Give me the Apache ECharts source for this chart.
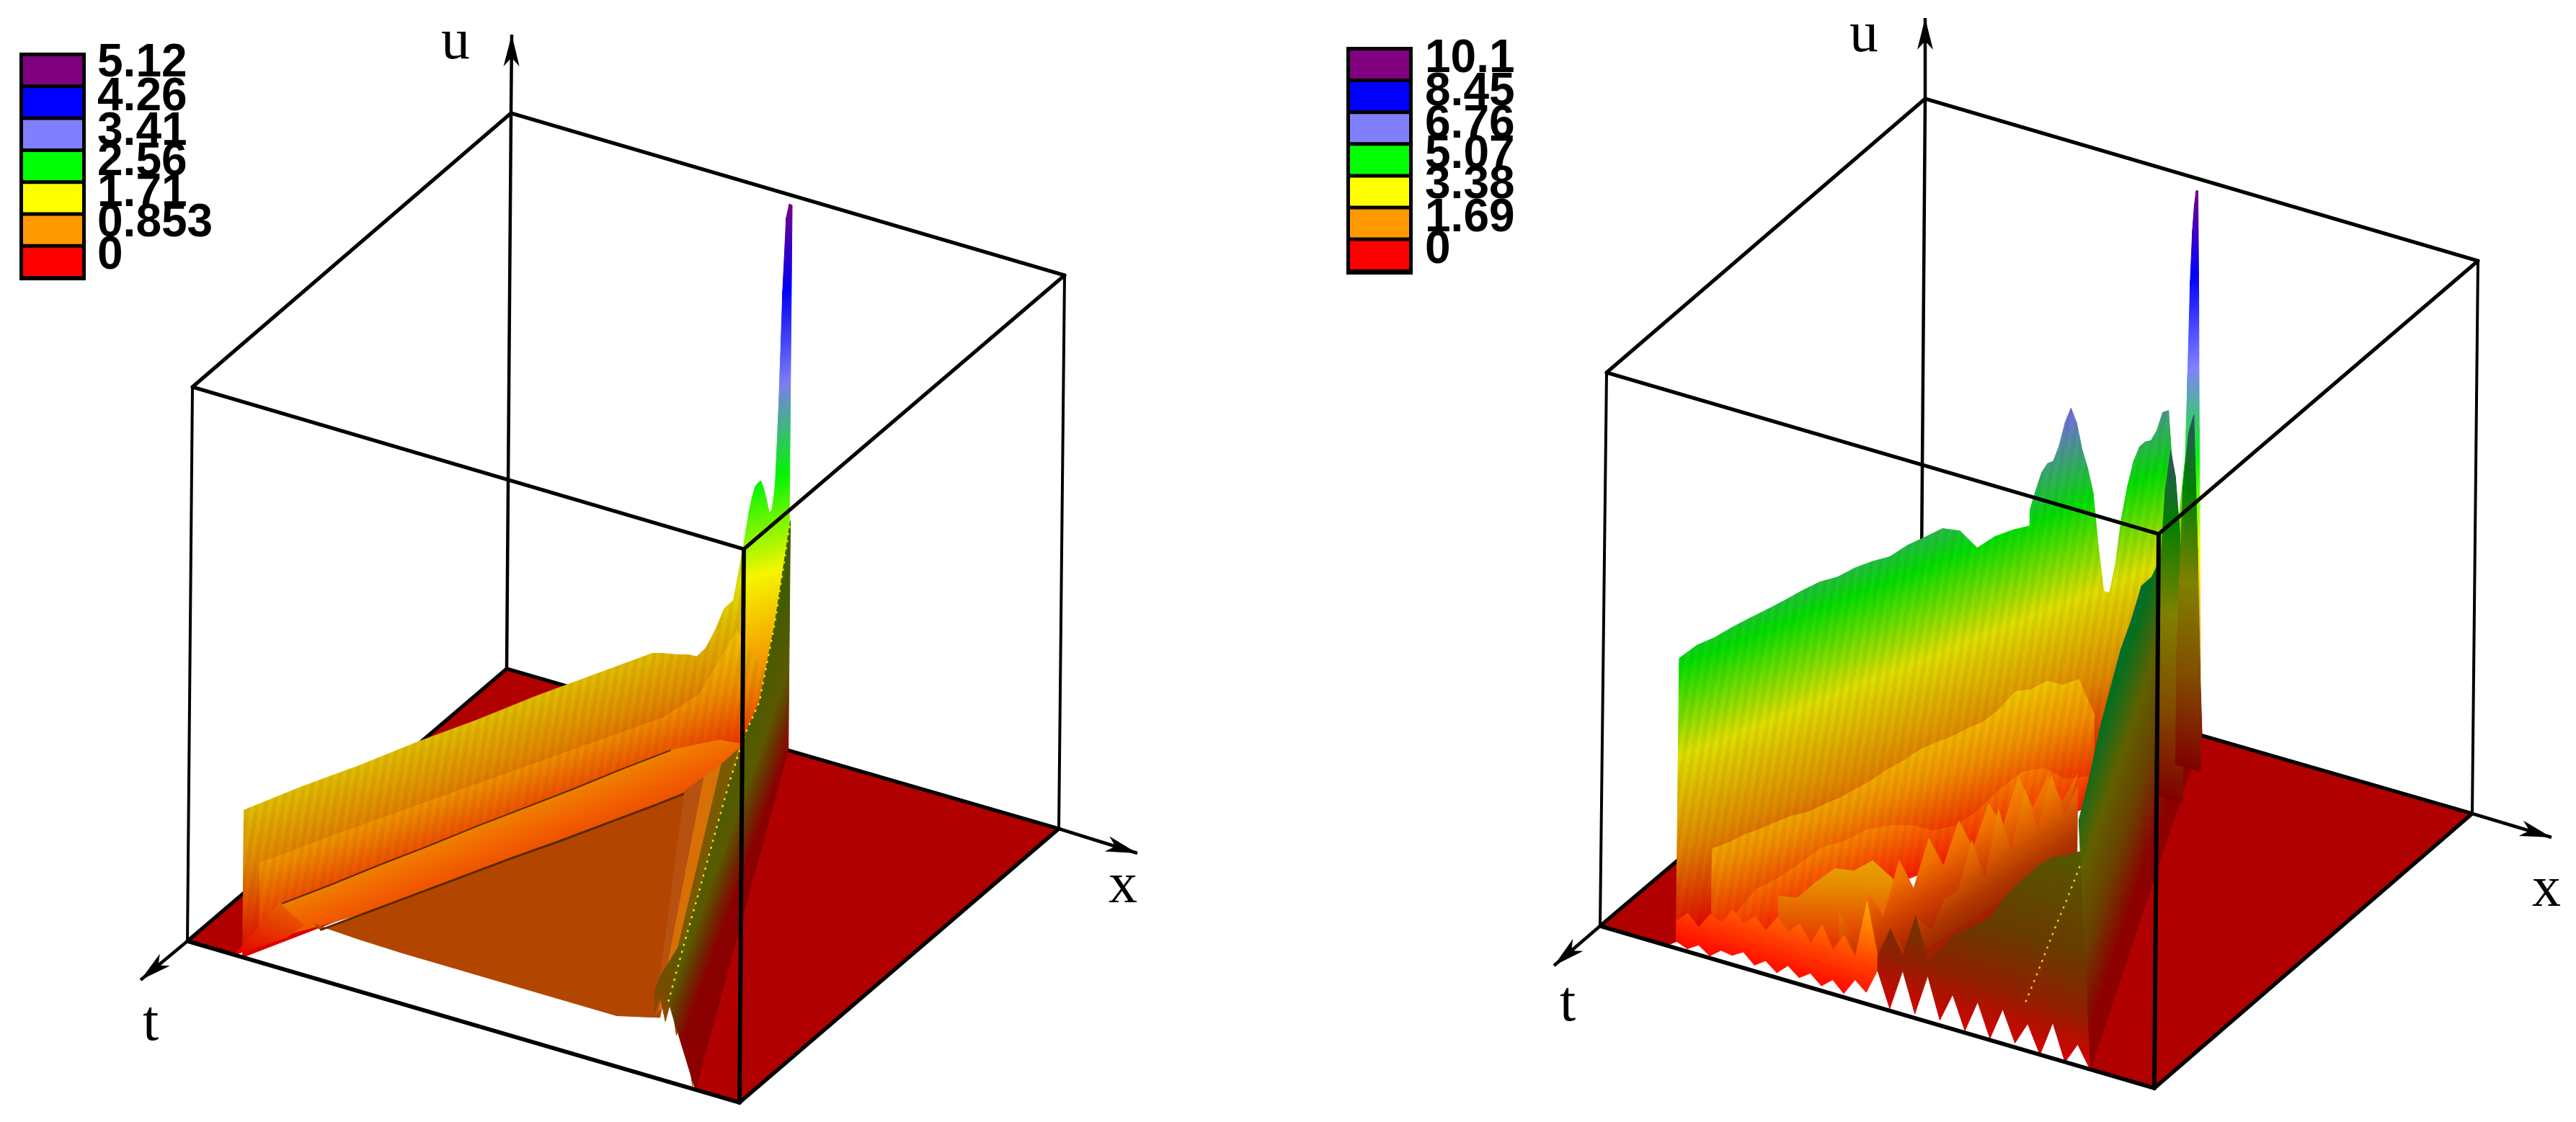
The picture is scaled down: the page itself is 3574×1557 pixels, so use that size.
<!DOCTYPE html>
<html>
<head>
<meta charset="utf-8">
<title>u(x,t) surfaces</title>
<script src="https://cdn.jsdelivr.net/npm/echarts@6/dist/echarts.min.js"></script>
<style>
  html, body { margin: 0; padding: 0; background: #fff; }
  #main { width: 3574px; height: 1557px; }
</style>
</head>
<body>
<div id="main"></div>
<script>
// legend
const rampColors = ["#ff0000", "#ff9900", "#ffff00", "#00ff00", "#8080ff", "#0000ff", "#800080"];
const leftLegendLabels = ["5.12", "4.26", "3.41", "2.56", "1.71", "0.853", "0"];
const rightLegendLabels = ["10.1", "8.45", "6.76", "5.07", "3.38", "1.69", "0"];
const leftMaxU = 5.12;
const rightMaxU = 10.1;

// left surface, heights read along lines on the x-t floor
const leftWallU = [1.36, 1.37, 1.36, 1.37, 1.36, 1.37, 1.36, 1.35];
const leftRiseU = [1.35, 1.32, 1.28, 1.24, 1.21, 1.16, 1.21, 1.34, 1.51, 1.55, 1.99];
const leftApexU = [1.99, 2.16, 2.32, 2.44, 2.53, 2.56, 2.57, 2.49, 2.38, 2.25, 2.27, 2.48, 3.22, 4.27, 4.93, 5.05, 5.03];
const leftStepU = [0.92, 0.91, 0.91, 0.9, 0.89, 0.88, 0.87, 0.86, 0.85, 0.84, 0.83, 0.82, 0.91, 1.36, 0.73];
const leftBandU = [0.6, 0.6, 0.61, 0.61, 0.62, 0.62, 0.62, 0.63, 0.63, 0.55, 0.3];
const leftBandLineU = [0.6, 0.6, 0.61, 0.61, 0.62, 0.62, 0.62, 0.63, 0.63];
const leftBandBaseU = [0.3, 0.25, 0.2, 0.15, 0.1, 0.1, 0.1, 0.1, 0.1, 0.1, 0.1];
const leftShelfTopU = [0.46, 0.46, 0.46, 0.46, 0.46, 0.45, 0.45, 0.45, 0.46];
const leftShelfFrontU = [0.5, 0.48, 0.47, 0.47, 0.47, 0.47, 0.47, 0.47, 0.57];
const leftToeTopU = [0, 0.08, 0.16, 0.25, 0.33];
const leftToeFrontU = [0, 0.1, 0.2, 0.3, 0.46];
const leftStripAU = [0.57, 0.53];
const leftStripBU = [0.63, 0.54];
const leftStripCU = [0.68, 0.54];
const leftStripDU = [0.74, 0.55];
const leftFringeTopU = [0.8, 0.95, 1.05, 1.15, 1.25, 1.3, 1.35, 1.3];
const leftFringeFrontU = [0.57, 0.76, 0.55, 0.77, 0.45, 0.7, 0.35, 0.02];
const leftFaceU = [0.74, 0.87, 0.98, 1.11, 1.23, 1.28, 1.21, 1.55, 2.12];

// right surface
const rightWallU = [5.17, 5.28, 5.29, 5.35, 5.39, 5.42, 5.46, 5.51, 5.54, 5.5, 5.54, 5.53, 5.49, 5.57, 5.59, 5.62, 5.45, 5.01, 5.09, 5.08, 5.03];
const rightPeaksU = [5.32, 5.64, 5.92, 6.04, 6.04, 6.28, 6.66, 6.88, 6.57, 6.04, 5.66, 5.16, 4.13, 3.29, 3.22, 3.7, 4.51, 5.04, 5.45, 5.67, 5.72, 5.7, 5.84, 6.13, 6.12, 4.76, 4.07, 5.13];
const rightSpikeU = [5.13, 6.64, 8.34, 9.25, 9.71, 9.96, 9.95, 8.08, 5.63, 3.48, 1.14];
const rightStepU = [2.0, 1.99, 2.02, 2.01, 2.02, 2.02, 1.97, 1.99, 2.0, 2.04, 2.09, 2.17, 2.21, 2.29, 2.31, 2.3, 2.33, 2.34, 2.45, 2.66, 2.58, 2.62, 2.43, 2.42, 1.66];
const rightBandU = [0.88, 1.22, 1.26, 1.37, 1.5, 1.45, 1.5, 1.41, 1.26, 1.0, 0.92, 1.03, 1.26, 1.42, 1.33, 0.97, 0.86];
const rightInnerU = [1.49, 1.46, 1.76, 2.01, 1.97, 2.16, 1.86, 1.4];
const rightTentsU = [1.5, 0.87, 1.57, 0.95, 1.84, 1.16, 1.92, 1.25, 1.92, 1.26, 1.92, 1.34, 2.1, 1.36, 1.79, 1.17, 1.5];
const rightTentsBaseU = [0.9, 0.9, 0.9, 0.9, 0.9, 0.9, 0.9, 0.9, 0.9, 0.9, 0.9, 0.9, 0.9, 0.9, 0.9, 0.9, 0.9];
const rightMidTentsU = [1.42, 0.92, 1.36, 1.01, 1.45, 1.43, 2.2, 1.33, 2.46, 1.55, 2.51, 1.64, 2.47, 1.6, 1.97];
const rightFrontAU = [0.13, 0.05, 0.18, 0.04, 0.2, 0.17, 0.29, 0.11, 0.25, 0.09, 0.28, 0.12, 0.26, 0.09, 0.26, 0.07, 0.38, 0.21, 0.67];
const rightFrontATopU = [0.5, 0.7, 0.5, 0.8, 0.7, 1.0, 0.8, 1.0, 0.8, 1.1, 0.9, 1.1, 0.8, 1.2, 0.8, 1.13, 0.8, 1.87, 0.93];
const rightFrontBU = [0.67, 0.04, 0.8, 0.08, 0.84, 0.1, 0.63, 0.04, 0.63, 0.03, 0.63, 0.08, 0.5, 0, 0.65, 0, 0.39, 0];
const rightFrontBTopU = [0.93, 1.49, 1.07, 1.86, 1.1, 1.38, 1.7, 1.87, 2.05, 2.25, 2.64, 2.96, 3.22, 3.49, 3.67, 3.76, 3.9, 4.0];
const rightDotsU = [0.88, 1.6, 2.35, 3.05, 3.8];
const rightFaceU = [4.47, 4.68, 5.03, 5.2, 5.37, 5.34, 5.43, 5.04, 4.88, 5.25, 3.4, 4.8];
const rightTowerAU = [4.0, 5.6, 6.35, 5.9, 4.9, 1.5];
const rightTowerBU = [2.1, 5.1, 6.1, 6.45, 4.06, 0.9];

const zeros = n => new Array(n).fill(0);

// cube corners on the page: [back, x end, t end, front]
const leftCube = {
  maxU: leftMaxU,
  bottom: [[703, 928], [1469, 1150], [260, 1306], [1026, 1530]],
  top: [[709, 157], [1477, 382], [267, 537], [1032, 762]],
  tips: { u: [710, 48], t: [195, 1360], x: [1578, 1184] },
  names: { u: [632, 60], t: [209, 1422], x: [1558, 1231] },
  legend: { x: 27, y: 73, w: 92, h: 316, pitch: 44.3, textX: 135, textY: [88, 135, 183, 225, 268, 310, 355] },
  labels: leftLegendLabels
};
const rightCube = {
  maxU: rightMaxU,
  bottom: [[2665, 908], [3430, 1129], [2220, 1285], [2989, 1510]],
  top: [[2671, 137], [3438, 362], [2229, 517], [2995, 741]],
  tips: { u: [2671, 25], t: [2156, 1340], x: [3540, 1162] },
  names: { u: [2586, 50], t: [2175, 1395], x: [3533, 1236] },
  legend: { x: 1868, y: 65, w: 92, h: 316, pitch: 44.1, textX: 1977, textY: [82, 128, 173, 215, 257, 303, 347] },
  labels: rightLegendLabels
};

const floorRed = "#b00000";

// drawn in this order, back to front
const leftSheets = [
  { top: { from: [0, 0], to: [0.5, 0], u: [0, 0] }, base: { from: [0, 1], to: [0.085, 1], u: [0, 0] }, flat: floorRed },
  { top: { from: [0.5, 0], to: [1, 0], u: [0, 0] }, base: { from: [0.92, 1], to: [1, 1], u: [0, 0] }, flat: floorRed },
  { backEdges: true },
  { top: { from: [0.1, 1], to: [0.402, 0.244], u: leftWallU }, shade: 0.88, stripes: true },
  { top: { from: [0.402, 0.244], to: [0.469, 0.077], u: leftRiseU }, shade: 0.88, stripes: true },
  { top: { from: [0.469, 0.077], to: [0.508, 0], u: leftApexU }, shade: 0.96 },
  { top: { from: [0.13, 1], to: [0.51, 0.05], u: leftStepU }, baseU: 0.3, shade: 0.93, stripes: true },
  { top: { from: [0.17, 1], to: [0.53, 0.1], u: leftBandU }, base: { from: [0.17, 1], to: [0.53, 0.1], u: leftBandBaseU }, ramp: [[0.1, "#e84a00"], [0.35, "#f26000"], [0.62, "#ee8000"]] },
  { line: { from: [0.17, 1], to: [0.458, 0.28], u: leftBandLineU }, color: "#5a2800", width: 2 },
  { top: { from: [0.24, 1], to: [0.53, 0.3], u: leftShelfTopU }, base: { from: [0.23, 1], to: [0.855, 1], u: leftShelfFrontU }, flat: "#b24600" },
  { line: { from: [0.24, 1], to: [0.53, 0.3], u: leftShelfTopU }, color: "#5a2800", width: 3 },
  { top: { from: [0.085, 1], to: [0.12, 0.92], u: leftToeTopU }, base: { from: [0.085, 1], to: [0.21, 1], u: leftToeFrontU }, floor: { from: [0.085, 1], to: [0.21, 1] }, shade: 0.9 },
  { top: { from: [0.846, 1], to: [0.524, 0.35], u: leftStripAU }, base: { from: [0.853, 1], to: [0.53, 0.3], u: leftStripBU }, flat: "#b85010" },
  { top: { from: [0.853, 1], to: [0.53, 0.3], u: leftStripBU }, base: { from: [0.862, 1], to: [0.533, 0.25], u: leftStripCU }, flat: "#d87008" },
  { top: { from: [0.862, 1], to: [0.533, 0.25], u: leftStripCU }, base: { from: [0.87, 1], to: [0.534, 0.2], u: leftStripDU }, flat: "#7a5a00" },
  { top: { from: [0.845, 1], to: [0.915, 1], u: leftFringeTopU }, base: { from: [0.845, 1], to: [0.915, 1], u: leftFringeFrontU }, ramp: [[0.3, "#b04a00"], [0.8, "#7a4a00"], [1.3, "#5a5a00"]] },
  { top: { from: [0.87, 1], to: [0.51, 0], u: leftFaceU }, base: { from: [0.92, 1], to: [0.51, 0], u: zeros(leftFaceU.length) }, ramp: [[0, "#8a0000"], [0.4, "#6a3000"], [0.75, "#5a5a00"], [1.3, "#4c5a00"], [2.2, "#2f6000"]] },
  { line: { from: [0.87, 1], to: [0.51, 0], u: leftFaceU }, color: "#e8e800", width: 2.5, dash: [3, 7] }
];

const rightSheets = [
  { top: { from: [0, 0], to: [0.5, 0], u: [0, 0] }, base: { from: [0, 1], to: [0.12, 1], u: [0, 0] }, flat: floorRed },
  { top: { from: [0.5, 0], to: [1, 0], u: [0, 0] }, base: { from: [0.884, 1], to: [1, 1], u: [0, 0] }, flat: floorRed },
  { backEdges: true },
  { top: { from: [0.1267, 0.982], to: [0.3785, 0.32], u: rightWallU }, shade: 0.87, stripes: true },
  { top: { from: [0.3785, 0.32], to: [0.49, 0.026], u: rightPeaksU }, shade: 0.87, stripes: true },
  { top: { from: [0.49, 0.026], to: [0.506, 0], u: rightSpikeU }, shade: 1 },
  { top: { from: [0.2, 1], to: [0.474, 0.278], u: rightStepU }, baseU: 0.3, shade: 0.94, stripes: true },
  { top: { from: [0.24, 1], to: [0.494, 0.332], u: rightBandU }, baseU: 0.3, shade: 0.97, stripes: true },
  { top: { from: [0.32, 1], to: [0.5, 0.9], u: rightInnerU }, baseU: 0.4, shade: 0.9 },
  { top: { from: [0.43, 1], to: [0.532, 0.43], u: rightTentsU }, base: { from: [0.43, 1], to: [0.75, 1], u: rightTentsBaseU }, ramp: [[0, "#a02000"], [0.8, "#d04000"], [1.5, "#f07000"], [2.1, "#f09000"]] },
  { top: { from: [0.5255, 1], to: [0.5916, 0.534], u: rightMidTentsU }, baseU: 0.75, ramp: [[0.5, "#902000"], [1.1, "#b03800"], [1.8, "#e06000"], [2.5, "#f09000"]] },
  { top: { from: [0.1373, 1], to: [0.5, 1], u: rightFrontATopU }, base: { from: [0.1373, 1], to: [0.5, 1], u: rightFrontAU }, shade: 1 },
  { top: { from: [0.5, 1], to: [0.884, 1], u: rightFrontBTopU }, base: { from: [0.5, 1], to: [0.884, 1], u: rightFrontBU }, ramp: [[0, "#d80000"], [1, "#902000"], [2, "#6a3a00"], [3.4, "#5a5000"], [5.07, "#3a6a00"]] },
  { line: { from: [0.767, 1], to: [0.868, 1], u: rightDotsU }, color: "#f0c800", width: 2.5, dash: [3, 7] },
  { top: { from: [0.86, 1], to: [0.49, 0], u: rightFaceU }, base: { from: [0.885, 1], to: [0.51, 0], u: zeros(rightFaceU.length) }, ramp: [[0, "#8c0000"], [1.69, "#6a4000"], [3.38, "#606000"], [5.07, "#007020"], [6.76, "#405080"]] },
  { top: { from: [0.545, 0.2], to: [0.59, 0.2], u: rightTowerAU }, shade: 0.5 },
  { top: { from: [0.52, 0.1], to: [0.565, 0.1], u: rightTowerBU }, shade: 0.5 }
];

function lerp(a, b, f) { return a + (b - a) * f; }

// (x, t, u) to axis values, blending the cube corners
function project(cube, x, t, u) {
  const w = u / cube.maxU;
  const out = [0, 0];
  for (let k = 0; k < 2; k++) {
    const b = lerp(lerp(cube.bottom[0][k], cube.bottom[1][k], x), lerp(cube.bottom[2][k], cube.bottom[3][k], x), t);
    const p = lerp(lerp(cube.top[0][k], cube.top[1][k], x), lerp(cube.top[2][k], cube.top[3][k], x), t);
    out[k] = lerp(b, p, w);
  }
  return out;
}

function shadeColor(c, shade) {
  const rgb = [1, 3, 5].map(i => Math.round(parseInt(c.slice(i, i + 2), 16) * shade));
  return "rgb(" + rgb.join(",") + ")";
}

// one gradient for a whole sheet: colour follows the height above its floor line
function sheetFill(cube, sheet, api) {
  if (sheet.flat) return sheet.flat;
  const line = sheet.floor || sheet.top;
  const s = api.coord(project(cube, line.from[0], line.from[1], 0));
  const e = api.coord(project(cube, line.to[0], line.to[1], 0));
  const up = api.coord(project(cube, line.from[0], line.from[1], cube.maxU));
  const len = Math.hypot(e[0] - s[0], e[1] - s[1]);
  const nx = -(e[1] - s[1]) / len;
  const ny = (e[0] - s[0]) / len;
  const reach = (up[0] - s[0]) * nx + (up[1] - s[1]) * ny;
  const stops = sheet.ramp
    ? sheet.ramp.map(r => ({ offset: r[0] / cube.maxU, color: r[1] }))
    : rampColors.map((c, i) => ({ offset: i / (rampColors.length - 1), color: shadeColor(c, sheet.shade) }));
  return new echarts.graphic.LinearGradient(s[0], s[1], s[0] + nx * reach, s[1] + ny * reach, stops, true);
}

// faint slanted streaks seen on the walls
const streakTile = document.createElement("canvas");
streakTile.width = 12;
streakTile.height = 72;
(function () {
  const ctx = streakTile.getContext("2d");
  ctx.fillStyle = "rgba(70,40,0,0.07)";
  [-12, 0, 12].forEach(dx => {
    ctx.beginPath();
    ctx.moveTo(dx + 12, 0);
    ctx.lineTo(dx + 18, 0);
    ctx.lineTo(dx + 6, 72);
    ctx.lineTo(dx, 72);
    ctx.closePath();
    ctx.fill();
  });
})();

function alongLine(line, i) {
  const f = line.u.length > 1 ? i / (line.u.length - 1) : 0;
  return [lerp(line.from[0], line.to[0], f), lerp(line.from[1], line.to[1], f), line.u[i]];
}

function sheetSeries(cube, sheet) {
  const top = sheet.top;
  const base = sheet.base || { from: top.from, to: top.to, u: top.u.map(() => sheet.baseU || 0) };
  const rows = [];
  for (let i = 0; i + 1 < top.u.length; i++) {
    rows.push([].concat(alongLine(top, i), alongLine(top, i + 1), alongLine(base, i), alongLine(base, i + 1)));
  }
  return {
    type: "custom",
    coordinateSystem: "cartesian2d",
    silent: true,
    animation: false,
    clip: false,
    data: rows,
    renderItem(params, api) {
      const v = n => api.value(n);
      const corner = n => api.coord(project(cube, v(n), v(n + 1), v(n + 2)));
      const points = [corner(0), corner(3), corner(9), corner(6)];
      const fill = sheetFill(cube, sheet, api);
      const body = { type: "polygon", shape: { points: points }, style: { fill: fill, stroke: fill, lineWidth: 1 } };
      if (!sheet.stripes) return body;
      return {
        type: "group",
        children: [body, { type: "polygon", shape: { points: points }, style: { fill: { image: streakTile, repeat: "repeat" } } }]
      };
    }
  };
}

function lineSeries(cube, sheet) {
  const rows = sheet.line.u.map((u, i) => alongLine(sheet.line, i));
  return {
    type: "custom",
    coordinateSystem: "cartesian2d",
    silent: true,
    animation: false,
    clip: false,
    data: [0],
    renderItem(params, api) {
      const points = rows.map(r => api.coord(project(cube, r[0], r[1], r[2])));
      return {
        type: "polyline",
        shape: { points: points },
        style: { fill: null, stroke: sheet.color, lineWidth: sheet.width, lineDash: sheet.dash || null }
      };
    }
  };
}

function edgeSeries(cube, edges) {
  return {
    type: "custom",
    coordinateSystem: "cartesian2d",
    silent: true,
    animation: false,
    clip: false,
    data: edges.map((e, i) => [i]),
    renderItem(params, api) {
      const e = edges[params.dataIndex];
      const a = api.coord(e[0]);
      const b = api.coord(e[1]);
      return {
        type: "line",
        shape: { x1: a[0], y1: a[1], x2: b[0], y2: b[1] },
        style: { stroke: "#000", lineWidth: e[2], lineCap: "round" }
      };
    }
  };
}

function arrowSeries(cube) {
  const heads = [
    [cube.top[0], cube.tips.u],
    [cube.bottom[2], cube.tips.t],
    [cube.bottom[1], cube.tips.x]
  ];
  return {
    type: "custom",
    coordinateSystem: "cartesian2d",
    silent: true,
    animation: false,
    clip: false,
    data: heads.map((h, i) => [i]),
    renderItem(params, api) {
      const h = heads[params.dataIndex];
      const a = api.coord(h[0]);
      const b = api.coord(h[1]);
      const len = Math.hypot(b[0] - a[0], b[1] - a[1]);
      const ux = (b[0] - a[0]) / len, uy = (b[1] - a[1]) / len;
      const at = (back, side) => [b[0] - ux * back - uy * side, b[1] - uy * back + ux * side];
      return {
        type: "group",
        children: [
          { type: "line", shape: { x1: a[0], y1: a[1], x2: b[0], y2: b[1] }, style: { stroke: "#000", lineWidth: 4.5 } },
          { type: "polygon", shape: { points: [b, at(44, 11), at(32, 0), at(44, -11)] }, style: { fill: "#000" } }
        ]
      };
    }
  };
}

function nameSeries(cube) {
  const names = ["u", "t", "x"];
  return {
    type: "custom",
    coordinateSystem: "cartesian2d",
    silent: true,
    animation: false,
    clip: false,
    data: names.map((n, i) => [i]),
    renderItem(params, api) {
      const n = names[params.dataIndex];
      const p = api.coord(cube.names[n]);
      return {
        type: "text",
        style: { x: p[0], y: p[1], text: n, fill: "#000", font: '80px "Liberation Serif"', align: "center", verticalAlign: "middle" }
      };
    }
  };
}

function legendSeries(cube) {
  const lg = cube.legend;
  const order = rampColors.slice().reverse();
  return {
    type: "custom",
    coordinateSystem: "cartesian2d",
    silent: true,
    animation: false,
    clip: false,
    data: [0],
    renderItem(params, api) {
      const o = api.coord([lg.x, lg.y]);
      const children = [{ type: "rect", shape: { x: o[0], y: o[1], width: lg.w, height: lg.h }, style: { fill: "#000" } }];
      order.forEach((c, i) => {
        children.push({
          type: "rect",
          shape: { x: o[0] + 5, y: o[1] + 5 + i * lg.pitch, width: lg.w - 10, height: lg.pitch - 5 },
          style: { fill: c }
        });
      });
      cube.labels.forEach((t, i) => {
        const p = api.coord([lg.textX, lg.textY[i]]);
        children.push({
          type: "text",
          style: { x: p[0], y: p[1], text: t, fill: "#000", font: 'bold 64px "Liberation Sans"', align: "left", verticalAlign: "middle" }
        });
      });
      return { type: "group", children: children };
    }
  };
}

function panelSeries(cube, sheets) {
  const b = cube.bottom, p = cube.top;
  const list = [];
  sheets.forEach(sheet => {
    if (sheet.backEdges) {
      list.push(edgeSeries(cube, [
        [b[0], b[1], 5], [b[0], b[2], 5], [p[0], b[0], 4.5],
        [p[0], p[1], 5], [p[0], p[2], 5], [p[1], b[1], 4], [p[2], b[2], 4]
      ]));
      list.push(arrowSeries(cube));
    } else if (sheet.line) {
      list.push(lineSeries(cube, sheet));
    } else {
      list.push(sheetSeries(cube, sheet));
    }
  });
  list.push(edgeSeries(cube, [
    [p[2], p[3], 5], [p[1], p[3], 5], [p[3], b[3], 6], [b[2], b[3], 5.5], [b[1], b[3], 5.5]
  ]));
  list.push(nameSeries(cube));
  list.push(legendSeries(cube));
  return list;
}

const myChart = echarts.init(document.getElementById("main"), null, { renderer: "canvas" });
const option = {
  animation: false,
  backgroundColor: "#ffffff",
  grid: { left: 0, right: 0, top: 0, bottom: 0 },
  xAxis: { type: "value", min: 0, max: 3574, show: false },
  yAxis: { type: "value", min: 0, max: 1557, inverse: true, show: false },
  series: panelSeries(leftCube, leftSheets).concat(panelSeries(rightCube, rightSheets))
};
myChart.setOption(option);
</script>
</body>
</html>
